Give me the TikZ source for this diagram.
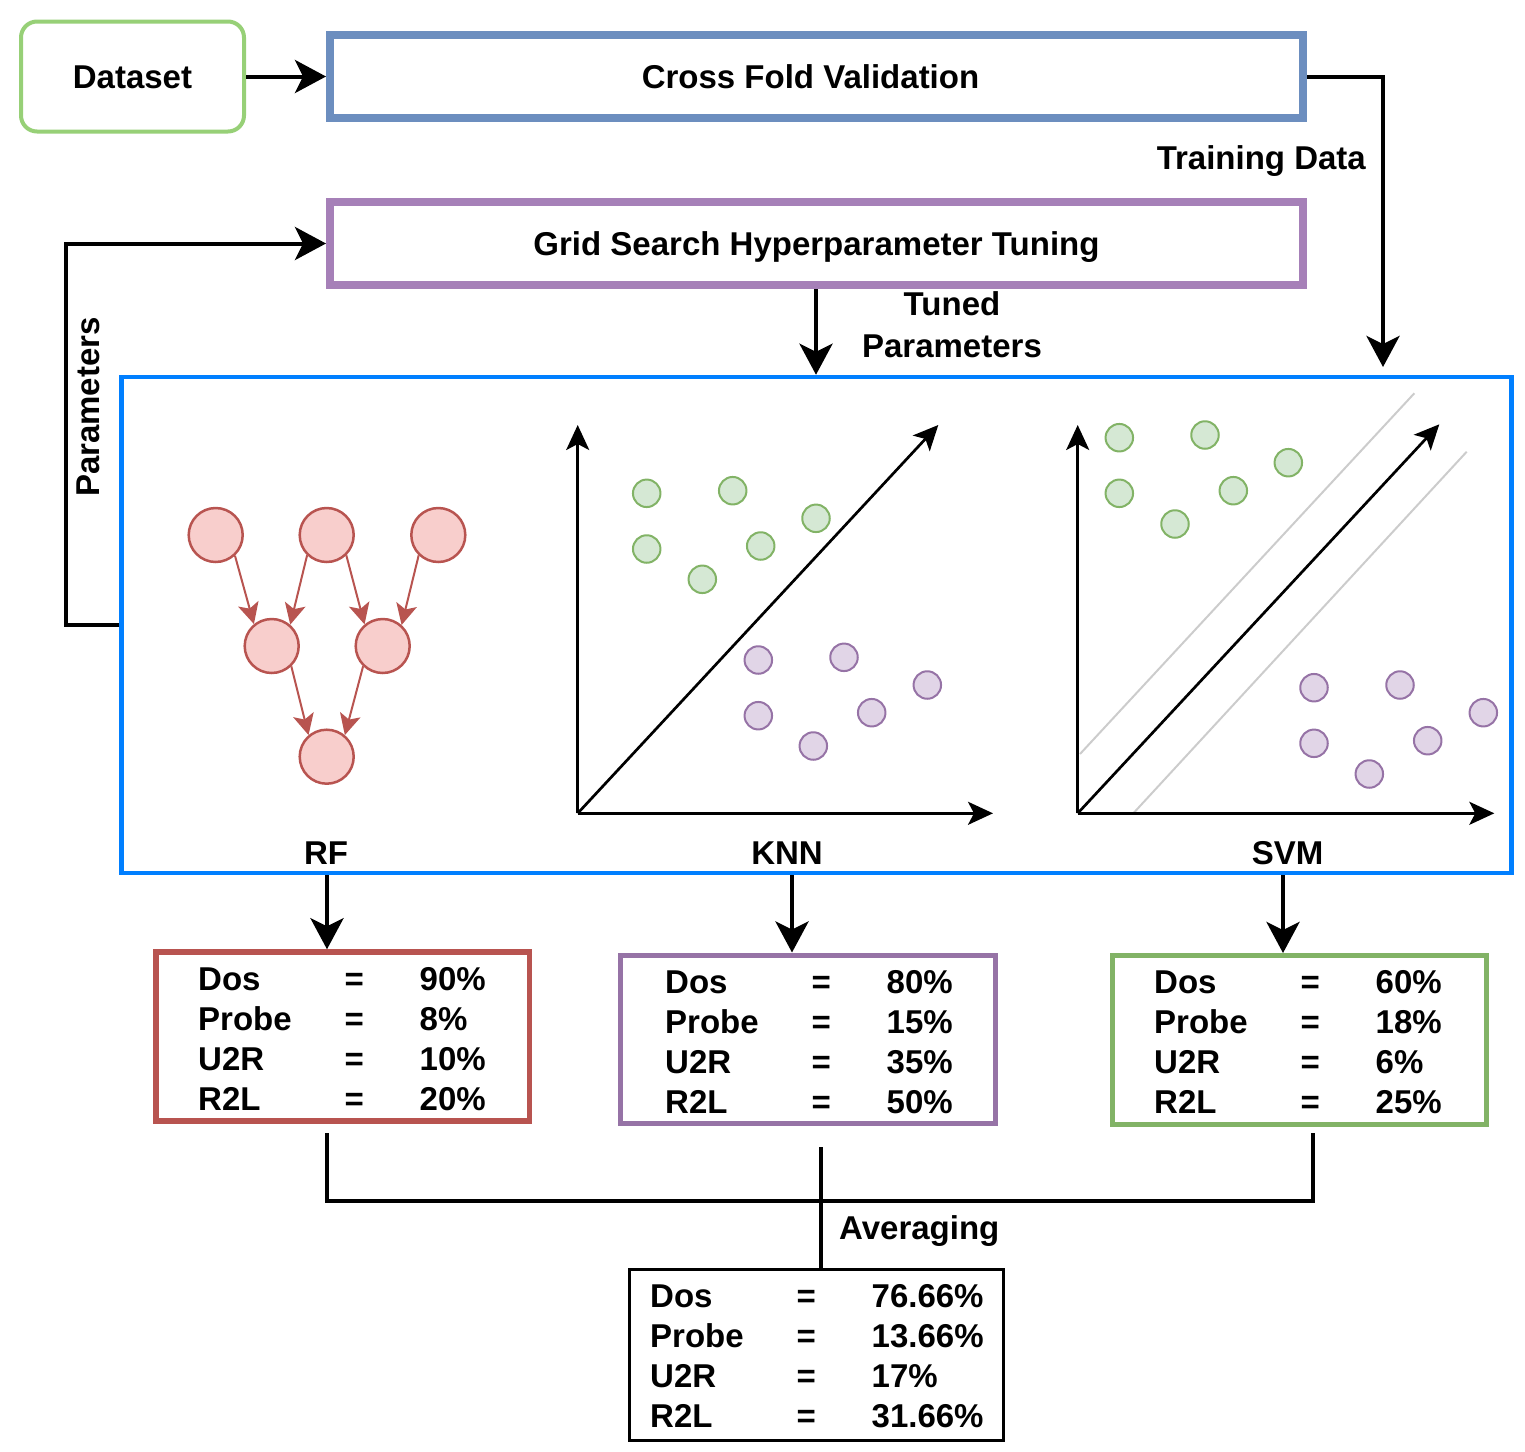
\documentclass[tikz,border=0pt]{standalone}
\usepackage{fontspec}
\setmainfont{Liberation Sans}
\usetikzlibrary{arrows.meta}
\definecolor{dsgreen}{HTML}{97D077}
\definecolor{cfvblue}{HTML}{6C8EBF}
\definecolor{gspurple}{HTML}{A680B8}
\definecolor{bigblue}{HTML}{007FFF}
\definecolor{rfred}{HTML}{B85450}
\definecolor{rffill}{HTML}{F8CECC}
\definecolor{knnpurple}{HTML}{9673A6}
\definecolor{svmgreen}{HTML}{82B366}
\definecolor{gfill}{HTML}{D5E8D4}
\definecolor{pfill}{HTML}{E1D5E7}
\definecolor{svgray}{HTML}{CCCCCC}
\newcommand{\rtab}[4]{\begin{tabular}[t]{@{}p{146.5pt}@{}p{75pt}@{}l@{}}Dos&=&#1\\Probe&=&#2\\U2R&=&#3\\R2L&=&#4\end{tabular}}
\begin{document}
\begin{tikzpicture}[x=1pt,y=-1pt,
  lbl/.style={font=\fontsize{33}{42}\selectfont\bfseries, text height=23.6pt, text depth=0pt, inner sep=0pt},
  tabtxt/.style={font=\fontsize{33}{40}\selectfont\bfseries, inner sep=0pt, anchor=base west},
  frame/.style={draw, rectangle, inner sep=0pt, lbl},
  bigarrow/.style={line width=4pt, -{Stealth[length=31pt,width=33pt,inset=8pt]}},
  conn/.style={line width=4pt},
  axis/.style={line width=2.7pt, -{Stealth[length=25pt,width=23pt,inset=6pt]}},
  treenode/.style={circle, draw=rfred, fill=rffill, line width=2.5pt, minimum size=54pt, inner sep=0pt},
  treearrow/.style={draw=rfred, line width=2pt, -{Stealth[length=21pt,width=21pt,inset=5pt]}},
  gdot/.style={circle, draw=svmgreen, fill=gfill, line width=2pt, minimum size=27.5pt, inner sep=0pt},
  pdot/.style={circle, draw=knnpurple, fill=pfill, line width=2pt, minimum size=27.5pt, inner sep=0pt},
  margin/.style={draw=svgray, line width=2pt}
]
\useasboundingbox (0,0) rectangle (1525,1451);

% top boxes
\node[frame, draw=dsgreen, line width=4pt, rounded corners=16pt, minimum width=223pt, minimum height=110pt] (ds) at (132.5,76.5) {Dataset};
\node[frame, draw=cfvblue, line width=8pt, minimum width=973pt, minimum height=83pt] (cfv) at (816.5,76.5) {\hspace*{-12pt}Cross Fold Validation};
\node[frame, draw=gspurple, line width=8pt, minimum width=973pt, minimum height=83pt] (gs) at (816.5,243.5) {Grid Search Hyperparameter Tuning};

% big model box
\node[draw=bigblue, line width=4.5pt, rectangle, inner sep=0pt, minimum width=1390pt, minimum height=496pt] (big) at (816.5,625) {};

% connectors at top
\draw[bigarrow] (ds.east) -- (cfv.west);
\coordinate (tdend) at (1383,367);
\draw[bigarrow] (cfv.east) -| (tdend);
\node[lbl, anchor=east] (tdlbl) at (1366,158) {Training Data};
\coordinate (tunex) at (816,0);
\draw[bigarrow] (gs.south -| tunex) -- (big.north -| tunex);
\node[lbl, anchor=north, align=center] (tplbl) at (952,334) {Tuned\\Parameters};
\coordinate (fbl) at (66,625);
\draw[bigarrow] (big.west) -- (fbl) |- (gs.west);
\node[lbl, rotate=90] (plbl) at (88,407) {Parameters};

% RF tree
\node[treenode] (t1) at (215.7,535) {};
\node[treenode] (t2) at (326.7,535) {};
\node[treenode] (t3) at (438.3,535) {};
\node[treenode] (m1) at (271.7,646) {};
\node[treenode] (m2) at (382.7,646) {};
\node[treenode] (b1) at (326.7,756.7) {};
\draw[treearrow] (t1.-47) -- (m1.129);
\draw[treearrow] (t2.-134) -- (m1.49);
\draw[treearrow] (t2.-46) -- (m2.130);
\draw[treearrow] (t3.-134) -- (m2.48);
\draw[treearrow] (m1.-46) -- (b1.130);
\draw[treearrow] (m2.-134) -- (b1.50);

% KNN plot
\coordinate (ko) at (577.7,813.3);
\coordinate (ky) at (577.7,425);
\coordinate (kx) at (993,813.3);
\coordinate (kd) at (938.3,425);
\draw[axis] (ko) -- (ky);
\draw[axis] (ko) -- (kx);
\draw[axis] (ko) -- (kd);
\node[gdot] (kg1) at (646.7,493.3) {};
\node[gdot] (kg2) at (732.7,490.7) {};
\node[gdot] (kg3) at (816,518.3) {};
\node[gdot] (kg4) at (646.7,549) {};
\node[gdot] (kg5) at (760.7,546) {};
\node[gdot] (kg6) at (702.3,579.3) {};
\node[pdot] (kp1) at (758.3,660) {};
\node[pdot] (kp2) at (844,657.3) {};
\node[pdot] (kp3) at (927.3,685) {};
\node[pdot] (kp4) at (758.3,715.7) {};
\node[pdot] (kp5) at (871.7,712.7) {};
\node[pdot] (kp6) at (813.3,746) {};

% SVM plot
\coordinate (so) at (1077.7,813.3);
\coordinate (sy) at (1077.7,425);
\coordinate (sx) at (1494.3,813.3);
\coordinate (sd) at (1439.3,424.3);
\coordinate (mu1) at (1080,754);
\coordinate (mu2) at (1414.3,393.3);
\coordinate (ml1) at (1133.3,813.3);
\coordinate (ml2) at (1466.7,451.7);
\draw[margin] (mu1) -- (mu2);
\draw[margin] (ml1) -- (ml2);
\draw[axis] (so) -- (sy);
\draw[axis] (so) -- (sx);
\draw[axis] (so) -- (sd);
\node[gdot] (sg1) at (1119.3,437.7) {};
\node[gdot] (sg2) at (1205,435) {};
\node[gdot] (sg3) at (1288.3,462.7) {};
\node[gdot] (sg4) at (1119.3,493.3) {};
\node[gdot] (sg5) at (1233.3,490.7) {};
\node[gdot] (sg6) at (1175,524) {};
\node[pdot] (sp1) at (1314,687.7) {};
\node[pdot] (sp2) at (1400,685) {};
\node[pdot] (sp3) at (1483.3,712.7) {};
\node[pdot] (sp4) at (1314,743.3) {};
\node[pdot] (sp5) at (1427.7,740.7) {};
\node[pdot] (sp6) at (1369.3,774) {};

% model labels
\node[lbl] (rflbl) at (326,853) {RF};
\node[lbl] (knnlbl) at (787,853) {KNN};
\node[lbl] (svmlbl) at (1287.5,853) {SVM};

% result boxes
\node[draw=rfred, line width=5.5pt, rectangle, inner sep=0pt, minimum width=373.5pt, minimum height=169pt] (rfbox) at (342.75,1036.5) {};
\node[draw=knnpurple, line width=5pt, rectangle, inner sep=0pt, minimum width=374.5pt, minimum height=168pt] (knnbox) at (807.75,1039) {};
\node[draw=svmgreen, line width=5pt, rectangle, inner sep=0pt, minimum width=374pt, minimum height=169pt] (svmbox) at (1299,1040) {};
\node[draw=black, line width=3pt, rectangle, inner sep=0pt, minimum width=374pt, minimum height=171pt] (avgbox) at (816,1354.5) {};

\node[tabtxt] (rftxt) at (198,990) {\rtab{90\%}{8\%}{10\%}{20\%}};
\node[tabtxt] (knntxt) at (665,993.5) {\rtab{80\%}{15\%}{35\%}{50\%}};
\node[tabtxt] (svmtxt) at (1154,993.5) {\rtab{60\%}{18\%}{6\%}{25\%}};
\node[tabtxt] (avgtxt) at (650,1307) {\rtab{76.66\%}{13.66\%}{17\%}{31.66\%}};

% arrows to result boxes
\coordinate (rfx) at (327,0);
\coordinate (knnx) at (792,0);
\coordinate (svmx) at (1283,0);
\draw[bigarrow] (big.south -| rfx) -- (rfbox.north -| rfx);
\draw[bigarrow] (big.south -| knnx) -- (knnbox.north -| knnx);
\draw[bigarrow] (big.south -| svmx) -- (svmbox.north -| svmx);

% averaging
\coordinate (al1) at (327,1133);
\coordinate (al2) at (327,1201);
\coordinate (ar2) at (1313,1201);
\coordinate (ar1) at (1313,1133);
\coordinate (am1) at (821,1147);
\draw[conn] (al1) -- (al2) -- (ar2) -- (ar1);
\draw[conn] (am1) -- (avgbox.north -| am1);
\node[lbl, anchor=west] (avglbl) at (839,1228) {Averaging};
\end{tikzpicture}
\end{document}
